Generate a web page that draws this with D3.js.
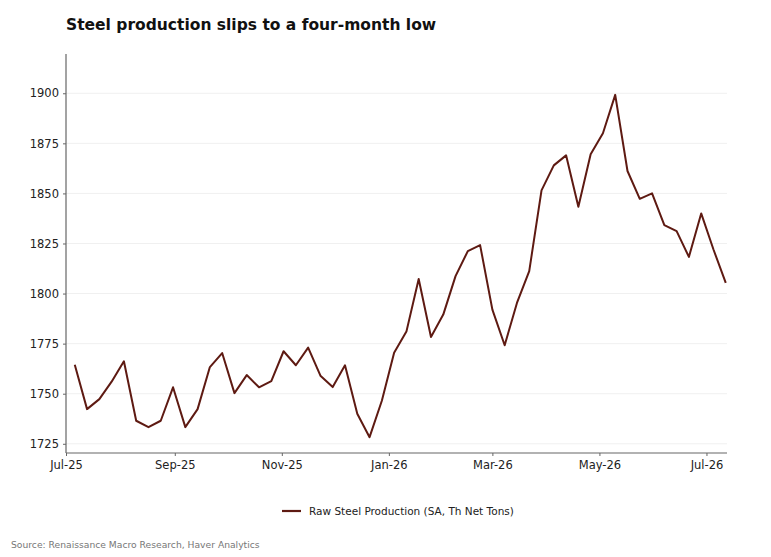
<!DOCTYPE html>
<html>
<head>
<meta charset="utf-8">
<script src="https://cdn.jsdelivr.net/npm/d3@7"></script>
<style>
  body { margin: 0; background: #fff; }
  svg { font-family: "DejaVu Sans", sans-serif; }
</style>
</head>
<body>
<svg id="chart" width="771" height="557"></svg>
<script>
// Weekly raw steel production, Jul-25 .. Jul-26

const weeks = [
  "2025-07-06", "2025-07-13", "2025-07-20", "2025-07-27", "2025-08-03", "2025-08-10",
  "2025-08-17", "2025-08-24", "2025-08-31", "2025-09-07", "2025-09-14", "2025-09-21",
  "2025-09-28", "2025-10-05", "2025-10-12", "2025-10-19", "2025-10-26", "2025-11-02",
  "2025-11-09", "2025-11-16", "2025-11-23", "2025-11-30", "2025-12-07", "2025-12-14",
  "2025-12-21", "2025-12-28", "2026-01-04", "2026-01-11", "2026-01-18", "2026-01-25",
  "2026-02-01", "2026-02-08", "2026-02-15", "2026-02-22", "2026-03-01", "2026-03-08",
  "2026-03-15", "2026-03-22", "2026-03-29", "2026-04-05", "2026-04-12", "2026-04-19",
  "2026-04-26", "2026-05-03", "2026-05-10", "2026-05-17", "2026-05-24", "2026-05-31",
  "2026-06-07", "2026-06-14", "2026-06-21", "2026-06-28", "2026-07-05", "2026-07-12"
];

const production = [
  1764.5, 1742.3, 1747.3, 1756.0, 1766.2, 1736.5, 1733.3, 1736.5, 1753.2, 1733.3,
  1742.3, 1763.3, 1770.3, 1750.3, 1759.3, 1753.2, 1756.3, 1771.2, 1764.2, 1773.0,
  1759.0, 1753.3, 1764.2, 1740.0, 1728.3, 1746.5, 1770.5, 1781.0, 1807.3, 1778.3,
  1789.5, 1808.7, 1821.2, 1824.2, 1792.0, 1774.2, 1795.3, 1811.2, 1851.5, 1864.0,
  1869.0, 1843.3, 1869.5, 1880.0, 1899.2, 1861.2, 1847.3, 1850.0, 1834.2, 1831.2,
  1818.3, 1840.0, 1822.0, 1805.3
];

const yTicks = [1725, 1750, 1775, 1800, 1825, 1850, 1875, 1900];
const xTicks = ["2025-07-01", "2025-09-01", "2025-11-01", "2026-01-01", "2026-03-01", "2026-05-01", "2026-07-01"];

const seriesName = "Raw Steel Production (SA, Th Net Tons)";
const title = "Steel production slips to a four-month low";
const source = "Source: Renaissance Macro Research, Haver Analytics";

function drawChart() {
  const svg = d3.select("#chart");
  const parse = d3.timeParse("%Y-%m-%d");
  const lineColor = "#5e1a12";

  const margin = { top: 54, right: 44, bottom: 104, left: 66 };
  const width = +svg.attr("width");
  const height = +svg.attr("height");
  const innerWidth = width - margin.left - margin.right;
  const innerHeight = height - margin.top - margin.bottom;

  const data = weeks.map((w, i) => ({ date: parse(w), value: production[i] }));

  const x = d3.scaleTime()
    .domain([parse("2025-07-01"), d3.timeHour.offset(parse("2026-07-12"), 17)])
    .range([0, innerWidth]);

  const y = d3.scaleLinear()
    .domain([1720.4, 1919.6])
    .range([innerHeight, 0]);

  const g = svg.append("g")
    .attr("transform", `translate(${margin.left},${margin.top})`);

  // faint gridlines
  g.selectAll(".grid")
    .data(yTicks)
    .join("line")
    .attr("x1", 0)
    .attr("x2", innerWidth)
    .attr("y1", d => y(d))
    .attr("y2", d => y(d))
    .attr("stroke", "#f0f0f0")
    .attr("stroke-width", 1);

  const yAxis = g.append("g")
    .call(d3.axisLeft(y).tickValues(yTicks).tickSize(3).tickPadding(4).tickFormat(d3.format("d")));

  const xAxis = g.append("g")
    .attr("transform", `translate(0,${innerHeight})`)
    .call(d3.axisBottom(x).tickValues(xTicks.map(parse)).tickSize(3).tickPadding(5).tickFormat(d3.timeFormat("%b-%y")));

  [yAxis, xAxis].forEach(ax => {
    ax.select(".domain").attr("stroke", "#666").attr("stroke-width", 1.2);
    ax.selectAll(".tick line").attr("stroke", "#666");
    ax.selectAll(".tick text")
      .attr("fill", "#222")
      .attr("font-size", 11.5)
      .attr("font-family", "DejaVu Sans, sans-serif");
  });
  yAxis.select(".domain").attr("d", `M0,${innerHeight}V0`);
  xAxis.select(".domain").attr("d", `M0,0H${innerWidth}`);

  const line = d3.line()
    .x(d => x(d.date))
    .y(d => y(d.value));

  g.append("path")
    .datum(data)
    .attr("fill", "none")
    .attr("stroke", lineColor)
    .attr("stroke-width", 2)
    .attr("stroke-linejoin", "round")
    .attr("d", line);

  svg.append("text")
    .attr("x", 66)
    .attr("y", 30)
    .attr("font-size", 15.5)
    .attr("font-weight", "bold")
    .attr("fill", "#111")
    .text(title);

  // legend, centred under the plot
  const legend = svg.append("g").attr("transform", "translate(282,511)");
  legend.append("line")
    .attr("x1", 0).attr("x2", 19)
    .attr("stroke", lineColor)
    .attr("stroke-width", 2.2);
  legend.append("text")
    .attr("x", 27)
    .attr("y", 4)
    .attr("font-size", 10.5)
    .attr("fill", "#222")
    .text(seriesName);

  svg.append("text")
    .attr("x", 11)
    .attr("y", 548)
    .attr("font-size", 9.2)
    .attr("fill", "#777")
    .text(source);
}

drawChart();
</script>
</body>
</html>
